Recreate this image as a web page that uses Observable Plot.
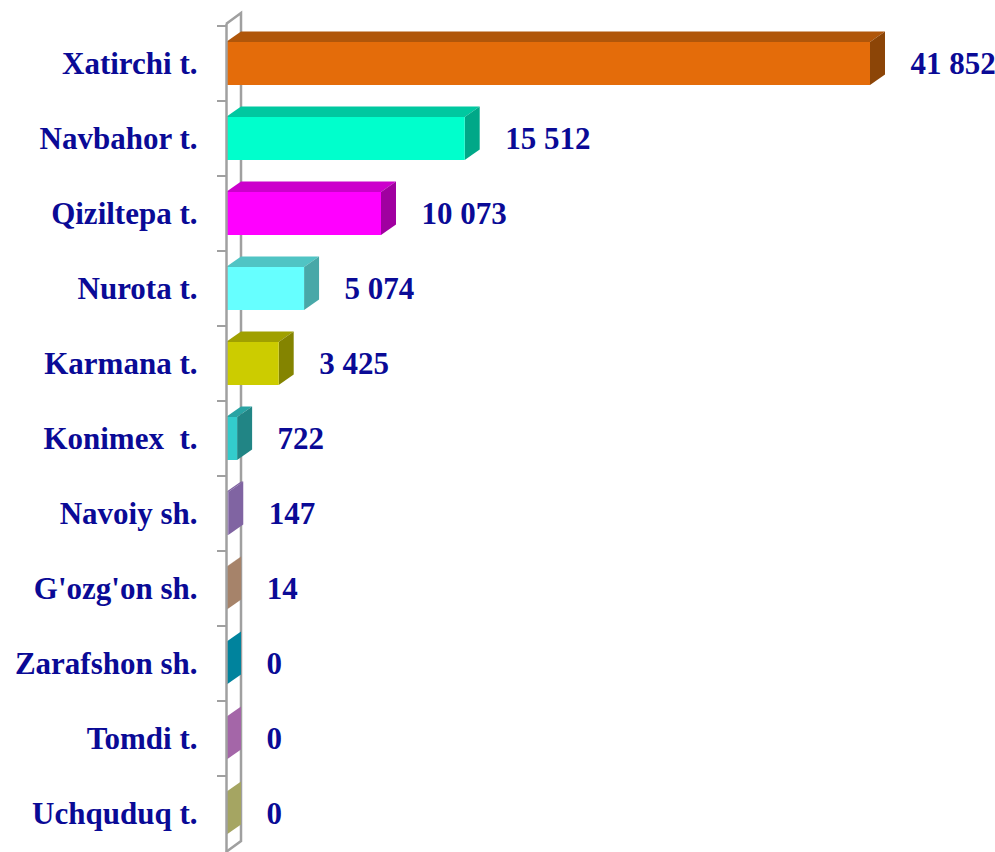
<!DOCTYPE html>
<html><head><meta charset="utf-8">
<script src="https://cdn.jsdelivr.net/npm/d3@7"></script>
<script src="https://cdn.jsdelivr.net/npm/@observablehq/plot@0.6"></script>
<style>body{margin:0;background:#fff}</style>
</head><body><div id="chart"></div>
<script>
const categories = ["Xatirchi t.", "Navbahor t.", "Qiziltepa t.", "Nurota t.", "Karmana t.", "Konimex\u00a0 t.", "Navoiy sh.", "G'ozg'on sh.", "Zarafshon sh.", "Tomdi t.", "Uchquduq t."];
const values = [41852, 15512, 10073, 5074, 3425, 722, 147, 14, 0, 0, 0];
const valueLabels = ["41 852", "15 512", "10 073", "5 074", "3 425", "722", "147", "14", "0", "0", "0"];
const frontColors = ["#E46C0A", "#00FFCC", "#FF00FF", "#66FFFF", "#CCCC00", "#33CCCC", "#9A7CC0", "#C09A7E", "#0098B6", "#C07CC4", "#C0C074"];
const topColors   = ["#B0560A", "#00C8A0", "#CC00CC", "#50C4C4", "#A0A000", "#29A3A3", "#8064A2", "#A6836A", "#00839D", "#A466A8", "#A5A562"];
const sideColors  = ["#8C4507", "#00A888", "#A000A0", "#48A8A8", "#848400", "#218585", "#8064A2", "#A6836A", "#00839D", "#A466A8", "#A5A562"];

const data = categories.map((c, i) => ({
  category: c, value: values[i], label: valueLabels[i],
  front: frontColors[i], top: topColors[i], side: sideColors[i]
}));

const DX = 15, DY = -10.5, WALL_DY = -11;
const axisColor = "#a0a0a0";
const textColor = "#0a0a96";
const font = "'Liberation Serif', 'Times New Roman', serif";

function bandInfo(scales) {
  const y = scales.y;
  const bw = typeof y.bandwidth === "function" ? y.bandwidth() : scales.scales.y.bandwidth;
  const step = typeof y.step === "function" ? y.step() : scales.scales.y.step;
  return {y, bw, step};
}

// back wall of the 3D axis, with ticks at band boundaries
function backWall(index, scales, values, dims) {
  const x = scales.x;
  const {y, bw, step} = bandInfo(scales);
  const x0 = x(0);
  const top = dims.marginTop, bottom = dims.height - dims.marginBottom;
  const g = d3.create("svg:g").attr("fill", "none").attr("stroke", axisColor).attr("stroke-width", 2.5);
  g.append("path").attr("d", `M${x0},${top}L${x0 + DX},${top + WALL_DY}L${x0 + DX},${bottom + WALL_DY}L${x0},${bottom}`);
  for (const c of categories) {
    const yb = y(c) - (step - bw) / 2;
    g.append("line").attr("x1", x0 - 9).attr("x2", x0).attr("y1", yb).attr("y2", yb).attr("stroke-width", 2);
  }
  return g.node();
}

// top and side faces of each 3D bar
function faces(index, scales) {
  const x = scales.x;
  const {y, bw} = bandInfo(scales);
  const g = d3.create("svg:g");
  for (const d of data) {
    const x0 = x(0), x1 = x(d.value), y0 = y(d.category), y1 = y0 + bw;
    if (x1 > x0) g.append("path")
      .attr("d", `M${x0},${y0}L${x1},${y0}L${x1 + DX},${y0 + DY}L${x0 + DX},${y0 + DY}Z`)
      .attr("fill", d.top);
    g.append("path")
      .attr("d", `M${x1},${y0}L${x1 + DX},${y0 + DY}L${x1 + DX},${y1 + DY}L${x1},${y1}Z`)
      .attr("fill", d.side);
  }
  return g.node();
}

const chart = Plot.plot({
  width: 995,
  height: 852,
  marginLeft: 226,
  marginRight: 0,
  marginTop: 24,
  marginBottom: 0,
  style: {background: "#fff", fontFamily: font},
  x: {domain: [0, d3.max(values)], range: [226, 870], axis: null},
  y: {domain: categories, paddingInner: 0.43, paddingOuter: 0.215, axis: null},
  marks: [
    backWall,
    faces,
    Plot.barX(data, {x1: 0, x2: "value", y: "category", fill: "front"}),
    Plot.ruleX([0], {stroke: axisColor, strokeWidth: 2.5}),
    Plot.text(data, {x: 0, y: "category", text: "category", textAnchor: "end", dx: -29,
      fill: textColor, fontSize: 31, fontWeight: "bold", fontFamily: font}),
    Plot.text(data, {x: "value", y: "category", text: "label", textAnchor: "start", dx: 40,
      fill: textColor, fontSize: 31, fontWeight: "bold", fontFamily: font})
  ]
});
document.getElementById("chart").appendChild(chart);
</script>
</body></html>
